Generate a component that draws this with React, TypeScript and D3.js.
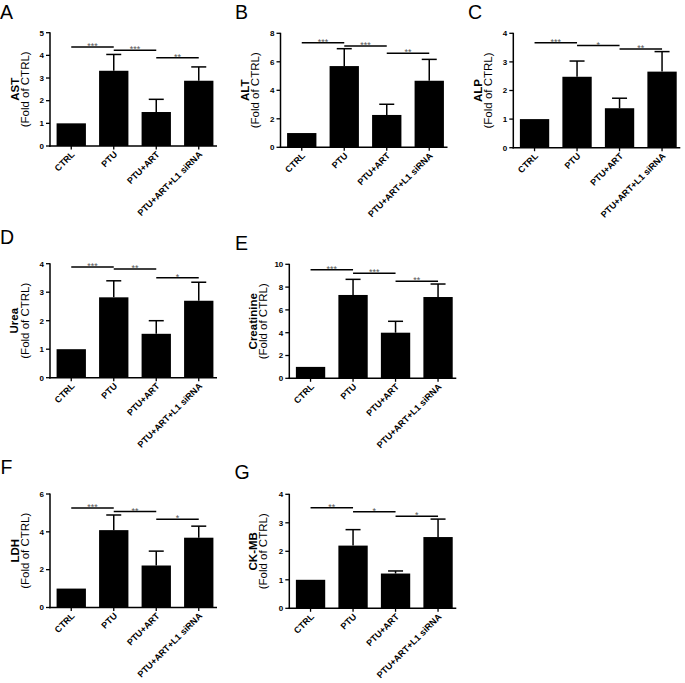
import React from "react";
import * as d3 from "d3";

const categories = ["CTRL", "PTU", "PTU+ART", "PTU+ART+L1 siRNA"];

// A: AST
const astMean = [1, 3.32, 1.5, 2.88];
const astErr = [0, 0.72, 0.56, 0.61];
const astSig = [4.37, 4.23, 3.9];
const astStars = ["***", "***", "**"];
const astTicks = [0, 1, 2, 3, 4, 5];
// B: ALT
const altMean = [1, 5.7, 2.27, 4.67];
const altErr = [0, 1.22, 0.75, 1.5];
const altSig = [7.34, 7.11, 6.6];
const altStars = ["***", "***", "**"];
const altTicks = [0, 2, 4, 6, 8];
// C: ALP
const alpMean = [1, 2.48, 1.38, 2.66];
const alpErr = [0, 0.55, 0.35, 0.7];
const alpSig = [3.67, 3.57, 3.45];
const alpStars = ["***", "*", "**"];
const alpTicks = [0, 1, 2, 3, 4];
// D: Urea
const ureaMean = [1, 2.82, 1.54, 2.7];
const ureaErr = [0, 0.58, 0.46, 0.65];
const ureaSig = [3.88, 3.81, 3.51];
const ureaStars = ["***", "**", "*"];
const ureaTicks = [0, 1, 2, 3, 4];
// E: Creatinine
const creaMean = [1, 7.31, 4.0, 7.13];
const creaErr = [0, 1.37, 1.0, 1.14];
const creaSig = [9.53, 9.22, 8.52];
const creaStars = ["***", "***", "**"];
const creaTicks = [0, 2, 4, 6, 8, 10];
// F: LDH
const ldhMean = [1, 4.09, 2.22, 3.69];
const ldhErr = [0, 0.8, 0.76, 0.61];
const ldhSig = [5.26, 5.07, 4.67];
const ldhStars = ["***", "**", "*"];
const ldhTicks = [0, 2, 4, 6];
// G: CK-MB
const ckMean = [1, 2.2, 1.22, 2.5];
const ckErr = [0, 0.56, 0.09, 0.63];
const ckSig = [3.53, 3.39, 3.23];
const ckStars = ["**", "*", "*"];
const ckTicks = [0, 1, 2, 3, 4];

const FONT = "'Liberation Sans', Arial, Helvetica, sans-serif";

type PanelProps = {
  letter: string;
  letterX: number;
  letterY: number;
  label: string;
  mean: number[];
  err: number[];
  sig: number[];
  stars: string[];
  ticks: number[];
  axisX: number;
  yTop: number;
  y0: number;
  lab1: number;
  lab2: number;
};

function Panel(p: PanelProps) {
  const yMax = p.ticks[p.ticks.length - 1];
  const y = d3.scaleLinear().domain([0, yMax]).range([p.y0, p.yTop]);
  const x = d3
    .scaleBand<string>()
    .domain(categories)
    .range([p.axisX, p.axisX + 170])
    .paddingInner(0.31)
    .paddingOuter(0.155);
  const bw = x.bandwidth();
  const cx = (c: string) => (x(c) as number) + bw / 2;
  const midY = (p.y0 + p.yTop) / 2;
  const axisEnd = p.axisX + 167;
  const capW = 15;
  return (
    <g>
      <text x={p.letterX} y={p.letterY} fontFamily={FONT} fontSize={19.5} fill="#000">
        {p.letter}
      </text>
      <text
        transform={`translate(${p.axisX + p.lab1},${midY}) rotate(-90)`}
        textAnchor="middle"
        fontFamily={FONT}
        fontSize={11.5}
        fontWeight="bold"
      >
        {p.label}
      </text>
      <text
        transform={`translate(${p.axisX + p.lab2},${midY}) rotate(-90)`}
        textAnchor="middle"
        fontFamily={FONT}
        fontSize={11.5}
      >
        (Fold of CTRL)
      </text>
      {categories.map((c, i) => (
        <rect
          key={c}
          x={x(c)}
          y={y(p.mean[i])}
          width={bw}
          height={p.y0 - y(p.mean[i])}
          fill="#000"
        />
      ))}
      {categories.map((c, i) =>
        p.err[i] > 0 ? (
          <g key={c + "e"} stroke="#000" strokeWidth={1.5}>
            <line x1={cx(c)} x2={cx(c)} y1={y(p.mean[i])} y2={y(p.mean[i] + p.err[i])} />
            <line
              x1={cx(c) - capW / 2}
              x2={cx(c) + capW / 2}
              y1={y(p.mean[i] + p.err[i])}
              y2={y(p.mean[i] + p.err[i])}
            />
          </g>
        ) : null
      )}
      <line x1={p.axisX} x2={p.axisX} y1={p.y0 + 0.75} y2={p.yTop - 0.5} stroke="#000" strokeWidth={1.5} />
      <line x1={p.axisX - 0.75} x2={axisEnd} y1={p.y0} y2={p.y0} stroke="#000" strokeWidth={1.5} />
      {p.ticks.map((t) => (
        <g key={"t" + t}>
          <line x1={p.axisX - 4} x2={p.axisX} y1={y(t)} y2={y(t)} stroke="#000" strokeWidth={1.3} />
          <text
            x={p.axisX - 6}
            y={y(t)}
            dy="0.35em"
            textAnchor="end"
            fontFamily={FONT}
            fontSize={8}
            fontWeight="bold"
          >
            {t}
          </text>
        </g>
      ))}
      {categories.map((c) => (
        <g key={c + "x"}>
          <line x1={cx(c)} x2={cx(c)} y1={p.y0} y2={p.y0 + 3.5} stroke="#000" strokeWidth={1.3} />
          <text
            transform={`translate(${cx(c) + 4},${p.y0 + 9}) rotate(-45)`}
            textAnchor="end"
            fontFamily={FONT}
            fontSize={9}
            fontWeight="bold"
          >
            {c}
          </text>
        </g>
      ))}
      {p.sig.map((s, i) => {
        const a = cx(categories[i]);
        const b = cx(categories[i + 1]);
        return (
          <g key={"s" + i}>
            <line x1={a} x2={b} y1={y(s)} y2={y(s)} stroke="#000" strokeWidth={1.5} />
            <text
              x={(a + b) / 2}
              y={y(s) + 2}
              textAnchor="middle"
              fontFamily={FONT}
              fontSize={9}
              fill="#555"
            >
              {p.stars[i]}
            </text>
          </g>
        );
      })}
    </g>
  );
}

export default function App() {
  return (
    <svg width={685} height={683} style={{ position: "absolute", left: 0, top: 0, background: "#fff" }}>
      <rect width={685} height={683} fill="#fff" />
      <Panel letter="A" letterX={0} letterY={18.5} label="AST" mean={astMean} err={astErr} sig={astSig} stars={astStars} ticks={astTicks} axisX={50} yTop={32.7} y0={146} lab1={-31} lab2={-21} />
      <Panel letter="B" letterX={235} letterY={18.5} label="ALT" mean={altMean} err={altErr} sig={altSig} stars={altStars} ticks={altTicks} axisX={280.5} yTop={33.3} y0={147.3} lab1={-32} lab2={-21.5} />
      <Panel letter="C" letterX={468} letterY={18.5} label="ALP" mean={alpMean} err={alpErr} sig={alpSig} stars={alpStars} ticks={alpTicks} axisX={513.3} yTop={33.3} y0={147.7} lab1={-31.5} lab2={-21} />
      <Panel letter="D" letterX={0} letterY={243.5} label="Urea" mean={ureaMean} err={ureaErr} sig={ureaSig} stars={ureaStars} ticks={ureaTicks} axisX={50} yTop={263.7} y0={377.7} lab1={-32} lab2={-21} />
      <Panel letter="E" letterX={235} letterY={250.3} label="Creatinine" mean={creaMean} err={creaErr} sig={creaSig} stars={creaStars} ticks={creaTicks} axisX={289.3} yTop={264.3} y0={378.3} lab1={-32.5} lab2={-22} />
      <Panel letter="F" letterX={0.5} letterY={473.5} label="LDH" mean={ldhMean} err={ldhErr} sig={ldhSig} stars={ldhStars} ticks={ldhTicks} axisX={50} yTop={494} y0={607.5} lab1={-31.5} lab2={-21} />
      <Panel letter="G" letterX={234.5} letterY={478.5} label="CK-MB" mean={ckMean} err={ckErr} sig={ckSig} stars={ckStars} ticks={ckTicks} axisX={289.3} yTop={494.3} y0={608.3} lab1={-32.5} lab2={-22} />
    </svg>
  );
}
